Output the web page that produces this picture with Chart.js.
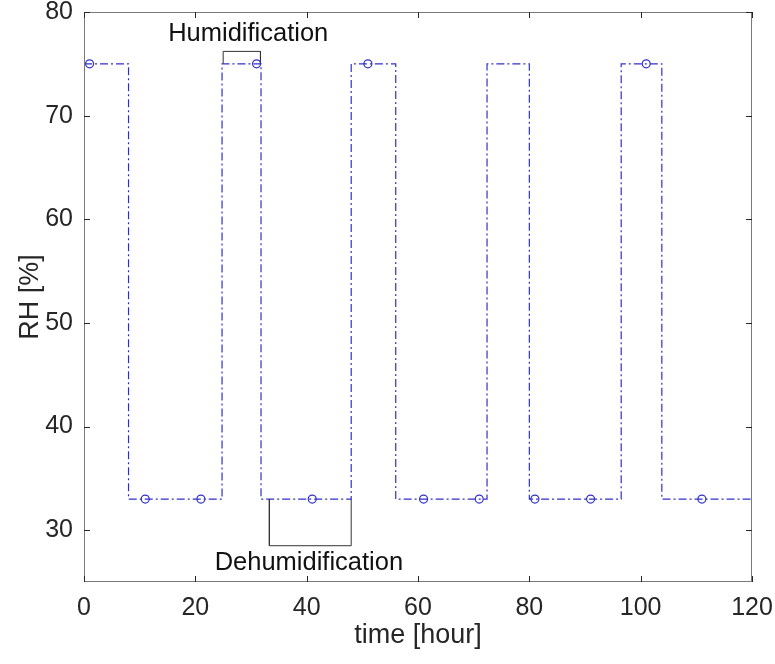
<!DOCTYPE html>
<html>
<head>
<meta charset="utf-8">
<style>
  body { margin: 0; background: #fff; }
  .chart-box { width: 775px; height: 664px; }
</style>
</head>
<body>
<div class="chart-box"><canvas id="rhCycle"></canvas></div>
<script src="https://cdn.jsdelivr.net/npm/chart.js"></script>
<script>
// RH setpoint: each level holds from its switch time up to the next one
const switchHours = [0, 8, 24.8, 31.8, 48, 56, 72.4, 80, 96.5, 103.8, 120];
const rhLevels = [75, 33, 75, 33, 75, 33, 75, 33, 75, 33, 33];

// sampled points marked with circles
const sampleHours = [1, 11, 21, 31, 41, 51, 61, 71, 81, 91, 101, 111];
const sampleRH = [75, 33, 33, 75, 33, 75, 33, 33, 33, 33, 75, 33];

const xTicks = [0, 20, 40, 60, 80, 100, 120];
const yTicks = [30, 40, 50, 60, 70, 80];

// brackets around one humidification and one dehumidification phase
const humBracketX = [25, 25, 31.7, 31.7];
const humBracketY = [75, 76.2, 76.2, 75];
const dehumBracketX = [33.3, 33.3, 48, 48];
const dehumBracketY = [33, 28.5, 28.5, 33];

const noteTexts = ['Humidification', 'Dehumidification'];
const noteX = [29.5, 40.4];
const noteY = [77.9, 26.8];

const lineBlue = 'rgb(48, 48, 200)';
const axisGrey = '#7a7a7a';
const textDark = '#262626';
const fontFamily = '"Liberation Sans", Arial, Helvetica, sans-serif';

function toPoints(xs, ys) {
  return xs.map(function(x, i) { return { x: x, y: ys[i] }; });
}

// box round the axes, MATLAB-style inward ticks and the two text notes
const frameAndNotes = {
  id: 'frameAndNotes',
  afterDraw(chart) {
    const ctx = chart.ctx;
    const area = chart.chartArea;
    const xs = chart.scales.x;
    const ys = chart.scales.y;
    const tick = 6;

    ctx.save();
    ctx.strokeStyle = axisGrey;
    ctx.lineWidth = 1;
    ctx.strokeRect(area.left + 0.5, area.top + 0.5, area.right - area.left - 1, area.bottom - area.top - 1);

    ctx.strokeStyle = textDark;
    ctx.beginPath();
    xTicks.forEach(function(v) {
      const px = Math.round(xs.getPixelForValue(v)) + 0.5;
      ctx.moveTo(px, area.bottom);
      ctx.lineTo(px, area.bottom - tick);
      ctx.moveTo(px, area.top);
      ctx.lineTo(px, area.top + tick);
    });
    yTicks.forEach(function(v) {
      const py = Math.round(ys.getPixelForValue(v)) + 0.5;
      ctx.moveTo(area.left, py);
      ctx.lineTo(area.left + tick, py);
      ctx.moveTo(area.right, py);
      ctx.lineTo(area.right - tick, py);
    });
    ctx.stroke();

    ctx.fillStyle = '#111';
    ctx.font = '25.5px ' + fontFamily;
    ctx.textAlign = 'center';
    ctx.textBaseline = 'middle';
    noteTexts.forEach(function(t, i) {
      ctx.fillText(t, xs.getPixelForValue(noteX[i]), ys.getPixelForValue(noteY[i]));
    });
    ctx.restore();
  }
};

const ctx = document.getElementById('rhCycle');

new Chart(ctx, {
  type: 'line',
  data: {
    datasets: [{
      label: 'RH',
      data: toPoints(switchHours, rhLevels),
      stepped: true,
      borderColor: lineBlue,
      borderWidth: 1.2,
      borderDash: [8, 3, 2, 3],
      pointRadius: 0,
      fill: false
    }, {
      label: 'samples',
      data: toPoints(sampleHours, sampleRH),
      showLine: false,
      pointStyle: 'circle',
      pointRadius: 4,
      pointBorderWidth: 1.2,
      pointBorderColor: lineBlue,
      pointBackgroundColor: 'rgba(0,0,0,0)'
    }, {
      label: 'humidification bracket',
      data: toPoints(humBracketX, humBracketY),
      borderColor: '#333',
      borderWidth: 1,
      pointRadius: 0,
      tension: 0
    }, {
      label: 'dehumidification bracket',
      data: toPoints(dehumBracketX, dehumBracketY),
      borderColor: '#333',
      borderWidth: 1,
      pointRadius: 0,
      tension: 0
    }]
  },
  options: {
    responsive: true,
    maintainAspectRatio: false,
    animation: false,
    layout: { padding: { top: 12, right: 23, left: 0, bottom: 0 } },
    plugins: {
      legend: { display: false },
      tooltip: { enabled: false }
    },
    scales: {
      x: {
        type: 'linear',
        min: 0,
        max: 120,
        afterBuildTicks: function(scale) {
          scale.ticks = xTicks.map(function(v) { return { value: v }; });
        },
        afterFit: function(scale) {
          scale.height = 82;
          scale.paddingLeft = 0;
          scale.paddingRight = 0;
        },
        grid: { display: false, drawTicks: false },
        border: { display: false },
        ticks: {
          padding: 11,
          color: textDark,
          font: { size: 25, family: fontFamily },
          maxRotation: 0
        },
        title: {
          display: true,
          text: 'time [hour]',
          color: textDark,
          font: { size: 27, family: fontFamily, lineHeight: 1.2 },
          padding: { top: 0, bottom: 12 }
        }
      },
      y: {
        type: 'linear',
        min: 25,
        max: 80,
        afterBuildTicks: function(scale) {
          scale.ticks = yTicks.map(function(v) { return { value: v }; });
        },
        afterFit: function(scale) {
          scale.width = 84;
          scale.paddingTop = 0;
          scale.paddingBottom = 0;
        },
        grid: { display: false, drawTicks: false },
        border: { display: false },
        ticks: {
          padding: 11,
          color: textDark,
          font: { size: 25, family: fontFamily }
        },
        title: {
          display: true,
          text: 'RH [%]',
          color: textDark,
          font: { size: 27, family: fontFamily, lineHeight: 1.2 },
          padding: { top: 14, bottom: 0 }
        }
      }
    }
  },
  plugins: [frameAndNotes]
});
</script>
</body>
</html>
